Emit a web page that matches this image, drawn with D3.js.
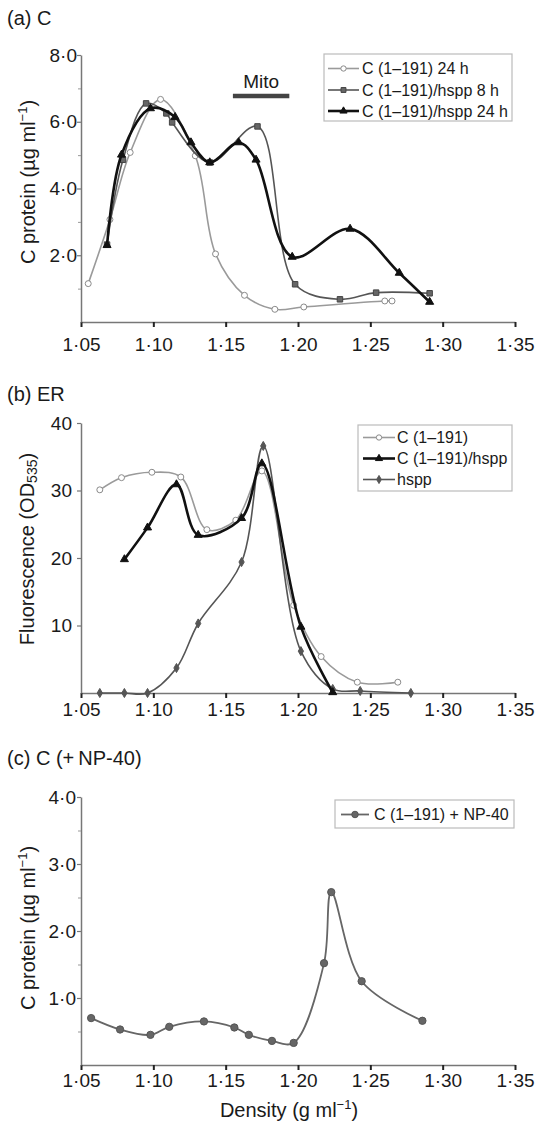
<!DOCTYPE html>
<html>
<head>
<meta charset="utf-8">
<script src="https://cdn.jsdelivr.net/npm/d3@7"></script>
<style>
body { margin: 0; background: #fff; }
svg text { font-family: "Liberation Sans", Arial, Helvetica, sans-serif; fill: #1a1a1a; }
</style>
</head>
<body>
<div id="chart"></div>
<script>
// values
var densityTicks = [1.05, 1.10, 1.15, 1.20, 1.25, 1.30, 1.35];

// (a) C
var densA24 = [1.055, 1.070, 1.084, 1.105, 1.129, 1.143, 1.163, 1.184, 1.204, 1.260, 1.265];
var protA24 = [1.15, 3.07, 5.08, 6.67, 4.98, 2.04, 0.80, 0.38, 0.45, 0.63, 0.63];
var densA8h = [1.068, 1.079, 1.095, 1.109, 1.113, 1.139, 1.172, 1.198, 1.229, 1.254, 1.291];
var protA8h = [2.32, 4.86, 6.55, 6.25, 5.98, 4.78, 5.86, 1.13, 0.68, 0.88, 0.86];
var densA24h = [1.068, 1.078, 1.098, 1.115, 1.126, 1.139, 1.159, 1.171, 1.196, 1.236, 1.270, 1.291];
var protA24h = [2.30, 5.01, 6.40, 6.14, 5.38, 4.78, 5.38, 4.86, 1.95, 2.79, 1.47, 0.60];
var mitoRange = [1.155, 1.194], mitoLevel = 6.77;

// (b) ER
var densB1 = [1.063, 1.078, 1.099, 1.119, 1.137, 1.157, 1.175, 1.197, 1.216, 1.241, 1.269];
var fluoB1 = [30.1, 31.9, 32.7, 32.0, 24.2, 25.6, 32.9, 13.0, 5.4, 1.6, 1.6];
var densB2 = [1.080, 1.096, 1.116, 1.131, 1.161, 1.175, 1.202, 1.224];
var fluoB2 = [19.8, 24.5, 30.9, 23.4, 25.9, 34.0, 9.8, 0.1];
var densB3 = [1.063, 1.080, 1.096, 1.116, 1.131, 1.161, 1.176, 1.202, 1.224, 1.243, 1.278];
var fluoB3 = [0, 0, 0, 3.7, 10.3, 19.4, 36.6, 6.2, 0.6, 0.3, 0];

// (c) C (+ NP-40)
var densC = [1.057, 1.077, 1.098, 1.111, 1.135, 1.156, 1.166, 1.182, 1.197, 1.218, 1.223, 1.244, 1.286];
var protC = [0.70, 0.53, 0.45, 0.57, 0.65, 0.56, 0.45, 0.36, 0.33, 1.52, 2.58, 1.25, 0.66];

var width = 541,
	height = 1125,
	left = 81,
	right = 515;

var svg = d3.select("#chart").append("svg")
	.attr("width", width)
	.attr("height", height);

svg.append("rect")
	.attr("width", width)
	.attr("height", height)
	.attr("fill", "#fff");

var x = d3.scaleLinear().domain([1.05, 1.35]).range([left, right]);
var yA = d3.scaleLinear().domain([0, 8]).range([322, 55]);
var yB = d3.scaleLinear().domain([0, 40]).range([693, 423]);
var yC = d3.scaleLinear().domain([0, 4]).range([1065, 797]);

function dotFmt(n) {
	return function(d) { return d3.format("." + n + "f")(d).replace(".", "\u00b7"); };
}

function axes(y, majors, minors, yFmt, yPad, xLabelY) {
	var gx = svg.append("g")
		.attr("transform", "translate(0," + y.range()[0] + ")")
		.call(d3.axisBottom(x).tickValues(densityTicks).tickFormat(dotFmt(2)).tickSize(5).tickSizeOuter(0));
	gx.attr("font-size", 19);
	gx.select(".domain").attr("stroke", "#777").attr("stroke-width", 1.5);
	gx.selectAll(".tick line").attr("stroke", "#222").attr("stroke-width", 2);
	gx.selectAll(".tick text").attr("y", xLabelY).attr("dy", null).attr("fill", "#1a1a1a");

	var gy = svg.append("g")
		.attr("transform", "translate(" + left + ",0)")
		.call(d3.axisLeft(y).tickValues(majors).tickFormat(yFmt).tickSize(4).tickPadding(yPad).tickSizeOuter(0));
	gy.attr("font-size", 19);
	gy.select(".domain").attr("stroke", "#777").attr("stroke-width", 1.5);
	gy.selectAll(".tick line").attr("stroke", "#777").attr("stroke-width", 1.2);
	gy.selectAll(".tick text").attr("fill", "#1a1a1a");

	if (minors.length) {
		var gm = svg.append("g")
			.attr("transform", "translate(" + left + ",0)")
			.call(d3.axisLeft(y).tickValues(minors).tickFormat("").tickSize(3).tickSizeOuter(0));
		gm.select(".domain").remove();
		gm.selectAll(".tick line").attr("stroke", "#999").attr("stroke-width", 1);
	}
}

function yTitle(cx, cy, parts) {
	var t = svg.append("text")
		.attr("transform", "translate(" + cx + "," + cy + ") rotate(-90)")
		.attr("text-anchor", "middle")
		.attr("font-size", 20);
	parts(t);
}

function unitLabel(t, lead) {
	t.append("tspan").text(lead + " (\u00b5g ml");
	t.append("tspan").attr("font-size", 13).attr("dy", -8).text("\u22121");
	t.append("tspan").attr("dy", 8).text(")");
}

var curve = d3.curveCatmullRom.alpha(0.5);

function series(xs, ys, y, st) {
	var pts = xs.map(function(d, i) { return [x(d), y(ys[i])]; });
	svg.append("path")
		.attr("d", d3.line().curve(curve)(pts))
		.attr("fill", "none")
		.attr("stroke", st.stroke)
		.attr("stroke-width", st.width);
	svg.append("g").selectAll("path")
		.data(pts)
		.enter()
		.append("path")
		.attr("transform", function(d) { return "translate(" + d[0] + "," + d[1] + ")"; })
		.attr("d", d3.symbol().type(st.symbol).size(st.size))
		.attr("fill", st.fill)
		.attr("stroke", st.markStroke)
		.attr("stroke-width", 1);
}

function legend(bx, by, bw, bh, lineX, textX, rows) {
	svg.append("rect")
		.attr("x", bx).attr("y", by)
		.attr("width", bw).attr("height", bh)
		.attr("fill", "#fff")
		.attr("stroke", "#bbb")
		.attr("stroke-width", 1.2);
	rows.forEach(function(r) {
		var cy = r.base - 5.5;
		svg.append("line")
			.attr("x1", lineX[0]).attr("x2", lineX[1])
			.attr("y1", cy).attr("y2", cy)
			.attr("stroke", r.st.stroke)
			.attr("stroke-width", r.st.width);
		svg.append("path")
			.attr("transform", "translate(" + (lineX[0] + lineX[1]) / 2 + "," + cy + ")")
			.attr("d", d3.symbol().type(r.st.symbol).size(r.st.size * 0.8))
			.attr("fill", r.st.fill)
			.attr("stroke", r.st.markStroke);
		svg.append("text")
			.attr("x", textX).attr("y", r.base)
			.attr("font-size", 16)
			.text(r.label);
	});
}

var openCircle = { stroke: "#9a9a9a", width: 1.6, symbol: d3.symbolCircle, size: 28, fill: "#fff", markStroke: "#8a8a8a" };
var graySquare = { stroke: "#555", width: 1.6, symbol: d3.symbolSquare, size: 30, fill: "#666", markStroke: "#444" };
var blackTri = { stroke: "#111", width: 2.6, symbol: d3.symbolTriangle, size: 28, fill: "#111", markStroke: "#111" };
var grayDiamond = { stroke: "#555", width: 1.6, symbol: d3.symbolDiamond, size: 24, fill: "#555", markStroke: "#555" };
var grayDot = { stroke: "#666", width: 1.8, symbol: d3.symbolCircle, size: 42, fill: "#666", markStroke: "#555" };

// ---- panel (a)
svg.append("text").attr("x", 7).attr("y", 25).attr("font-size", 20).text("(a) C");
axes(yA, [2, 4, 6, 8], [1, 3, 5, 7], dotFmt(1), 0, 29);
yTitle(35, 182, function(t) { unitLabel(t, "C protein"); });

svg.append("line")
	.attr("x1", x(mitoRange[0])).attr("x2", x(mitoRange[1]))
	.attr("y1", yA(mitoLevel)).attr("y2", yA(mitoLevel))
	.attr("stroke", "#444")
	.attr("stroke-width", 4.5);
svg.append("text")
	.attr("x", x((mitoRange[0] + mitoRange[1]) / 2))
	.attr("y", yA(mitoLevel) - 8)
	.attr("text-anchor", "middle")
	.attr("font-size", 19)
	.text("Mito");

series(densA24, protA24, yA, openCircle);
series(densA8h, protA8h, yA, graySquare);
series(densA24h, protA24h, yA, blackTri);

legend(324, 54, 188, 67, [328, 359], 362, [
	{ label: "C (1\u2013191) 24 h", st: openCircle, base: 74 },
	{ label: "C (1\u2013191)/hspp 8 h", st: graySquare, base: 95.5 },
	{ label: "C (1\u2013191)/hspp 24 h", st: blackTri, base: 116.5 }
]);

// ---- panel (b)
svg.append("text").attr("x", 7).attr("y", 401).attr("font-size", 20).text("(b) ER");
axes(yB, [10, 20, 30, 40], [], d3.format("d"), 5, 23);
yTitle(34, 549, function(t) {
	t.append("tspan").text("Fluorescence (OD");
	t.append("tspan").attr("font-size", 14).attr("dy", 3).text("535");
	t.append("tspan").attr("dy", -3).text(")");
});

series(densB1, fluoB1, yB, openCircle);
series(densB3, fluoB3, yB, grayDiamond);
series(densB2, fluoB2, yB, blackTri);

legend(358, 425, 154, 66, [363, 395], 397, [
	{ label: "C (1\u2013191)", st: openCircle, base: 443 },
	{ label: "C (1\u2013191)/hspp", st: blackTri, base: 464 },
	{ label: "hspp", st: grayDiamond, base: 485 }
]);

// ---- panel (c)
svg.append("text").attr("x", 7).attr("y", 765).attr("font-size", 20).text("(c) C (+\u2009NP-40)");
axes(yC, [1, 2, 3, 4], [0.5, 1.5, 2.5, 3.5], dotFmt(1), 1, 22);
yTitle(35, 928, function(t) { unitLabel(t, "C protein"); });

series(densC, protC, yC, grayDot);

legend(335, 800, 179, 28, [341, 369], 374, [
	{ label: "C (1\u2013191) + NP-40", st: grayDot, base: 820 }
]);

// x title
var xt = svg.append("text")
	.attr("x", 289)
	.attr("y", 1117)
	.attr("text-anchor", "middle")
	.attr("font-size", 20);
xt.append("tspan").text("Density (g ml");
xt.append("tspan").attr("font-size", 13).attr("dy", -8).text("\u22121");
xt.append("tspan").attr("dy", 8).text(")");
</script>
</body>
</html>
